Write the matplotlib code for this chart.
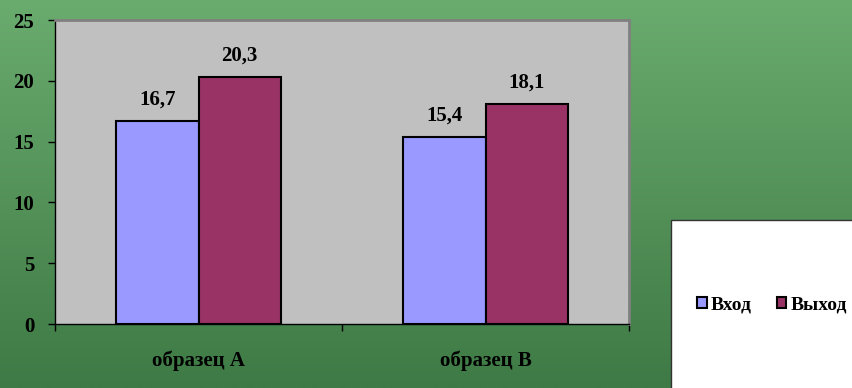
import numpy as np
import matplotlib.pyplot as plt
from matplotlib.patches import Rectangle

plt.rcParams['font.family'] = ['Liberation Serif', 'DejaVu Serif']
plt.rcParams['font.weight'] = 'bold'

# данные
categories = ['образец А', 'образец В']
series_names = ['Вход', 'Выход']
vhod = [16.7, 15.4]
vyhod = [20.3, 18.1]
y_ticks = [0, 5, 10, 15, 20, 25]

colors = ['#9999FF', '#993366']

fig = plt.figure(figsize=(8.52, 3.88), dpi=100)

# зелёный градиент фона
bg = fig.add_axes([0, 0, 1, 1], zorder=-10)
grad = np.linspace(0, 1, 256).reshape(-1, 1)
top = np.array([0x6A, 0xAB, 0x6E]) / 255
bot = np.array([0x3E, 0x7A, 0x45]) / 255
img = top * (1 - grad[..., None]) + bot * grad[..., None]
bg.imshow(img, aspect='auto', extent=[0, 1, 0, 1])
bg.set_axis_off()

ax = fig.add_axes([55 / 852, 64 / 388, 574 / 852, 304 / 388])
ax.set_facecolor('#C0C0C0')

x = np.arange(len(categories))
w = 0.286
b1 = ax.bar(x - w / 2, vhod, w, color=colors[0], edgecolor='black', linewidth=1.5, label=series_names[0])
b2 = ax.bar(x + w / 2, vyhod, w, color=colors[1], edgecolor='black', linewidth=1.5, label=series_names[1])

for bars, vals in ((b1, vhod), (b2, vyhod)):
    for rect, v in zip(bars, vals):
        ax.annotate(f'{v:.1f}'.replace('.', ','),
                    (rect.get_x() + rect.get_width() / 2, v),
                    xytext=(0, 8), textcoords='offset points',
                    ha='center', va='bottom', fontsize=15, fontweight='bold')

ax.set_ylim(0, 25)
ax.set_xlim(-0.5, 1.5)
ax.set_yticks(y_ticks)
ax.tick_params(axis='y', direction='out', length=5, width=1, labelsize=15, pad=10)

# деления по границам категорий, подписи по центру
ax.set_xticks([-0.5, 0.5, 1.5])
ax.set_xticklabels([])
ax.set_xticks(x, minor=True)
ax.set_xticklabels(categories, minor=True)
ax.tick_params(axis='x', which='major', direction='out', length=5, width=1)
ax.tick_params(axis='x', which='minor', length=0, labelsize=15, pad=19)

for side in ('top', 'right'):
    ax.spines[side].set_color('#808080')
    ax.spines[side].set_linewidth(2)
for side in ('left', 'bottom'):
    ax.spines[side].set_color('black')
    ax.spines[side].set_linewidth(1)

# белая панель легенды
fig.patches.append(Rectangle((671 / 852, -0.05), 0.3, (388 - 220) / 388 + 0.05,
                             transform=fig.transFigure, facecolor='white',
                             edgecolor='#333333', linewidth=1, zorder=1))
leg = fig.legend(handles=[b1, b2], loc='center left', bbox_to_anchor=(697 / 852, 1 - 305 / 388),
                 ncol=2, frameon=False, fontsize=14, handlelength=0.5, handleheight=0.5,
                 handletextpad=0.2, columnspacing=1.3, borderaxespad=0, borderpad=0)
leg.set_zorder(5)

fig.savefig('out.png', dpi=100)
